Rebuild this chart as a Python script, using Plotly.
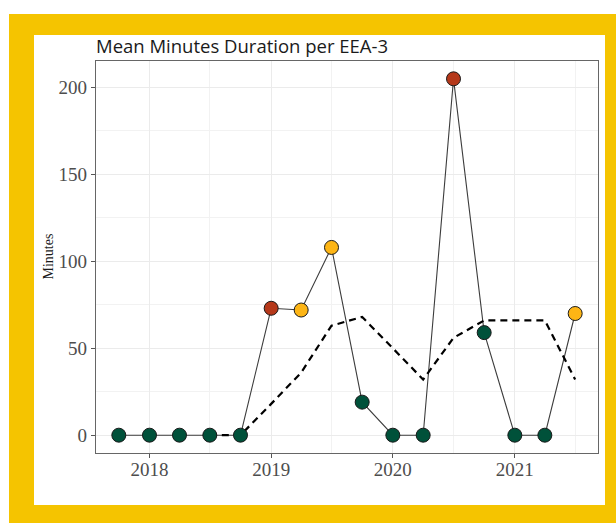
import plotly.graph_objects as go
import pandas as pd

# ---- data ----
quarters = ["2017-10-01", "2018-01-01", "2018-04-01", "2018-07-01", "2018-10-01",
            "2019-01-01", "2019-04-01", "2019-07-01", "2019-10-01",
            "2020-01-01", "2020-04-01", "2020-07-01", "2020-10-01",
            "2021-01-01", "2021-04-01", "2021-07-01"]
mean_minutes = [0, 0, 0, 0, 0, 73, 72, 108, 19, 0, 0, 205, 59, 0, 0, 70]
status = ["low", "low", "low", "low", "low", "high", "mid", "mid", "low",
          "low", "low", "high", "low", "low", "low", "mid"]
rolling_avg = [None, None, None, 0, 0, 18, 36, 63, 68, 50, 32, 56, 66, 66, 66, 32]
y_ticks = [0, 50, 100, 150, 200]
x_ticks = ["2018-01-01", "2019-01-01", "2020-01-01", "2021-01-01"]
x_tick_labels = ["2018", "2019", "2020", "2021"]

status_colors = {"low": "#00513A", "high": "#B5381A", "mid": "#FDB515"}

W, H = 616, 523
L, R, T, B = 96, 18, 61, 70
pw, ph = W - L - R, H - T - B

dates = pd.to_datetime(quarters)
span = dates.max() - dates.min()
xr = [dates.min() - span * 0.05, dates.max() + span * 0.05]
ymax = max(mean_minutes)
yr = [-0.05 * ymax, 1.05 * ymax]

fig = go.Figure()
fig.add_trace(go.Scatter(x=dates, y=mean_minutes, mode="lines",
                         line=dict(color="#3c3c3c", width=1.1),
                         hoverinfo="skip", showlegend=False))
fig.add_trace(go.Scatter(x=dates, y=rolling_avg, mode="lines",
                         line=dict(color="black", width=2.2, dash="7px,5px"),
                         connectgaps=False, showlegend=False))
fig.add_trace(go.Scatter(x=dates, y=mean_minutes, mode="markers",
                         marker=dict(size=14, color=[status_colors[s] for s in status],
                                     line=dict(color="#1a1a1a", width=1)),
                         showlegend=False))

def px_x(p):
    return (p - L) / pw

def px_y(p):
    return (H - B - p) / ph

# yellow frame and white inner panel (decoration)
fig.add_shape(type="rect", xref="paper", yref="paper", layer="below",
              x0=px_x(9), x1=px_x(W + 5), y0=px_y(H + 5), y1=px_y(14),
              fillcolor="#F5C400", line=dict(width=0))
fig.add_shape(type="rect", xref="paper", yref="paper", layer="below",
              x0=px_x(34), x1=px_x(605), y0=px_y(505), y1=px_y(35),
              fillcolor="white", line=dict(width=0))

fig.add_annotation(text="Minutes", xref="paper", yref="paper",
                   x=px_x(47.5), y=px_y(257), xanchor="center", yanchor="middle",
                   textangle=-90, showarrow=False,
                   font=dict(family="Liberation Serif", size=14, color="#1a1a1a"))

axis_common = dict(showline=True, mirror=True, linecolor="#666666", linewidth=1.2,
                   ticks="outside", ticklen=4, tickcolor="#555555", tickwidth=1,
                   gridcolor="#EBEBEB", gridwidth=1.1, zeroline=False,
                   tickfont=dict(family="Liberation Serif", size=19, color="#4D4D4D"))

fig.update_xaxes(type="date", range=xr, tickvals=pd.to_datetime(x_ticks),
                 ticktext=x_tick_labels, ticklabelstandoff=-5,
                 minor=dict(dtick="M6", tick0="2017-07-01", showgrid=True,
                            gridcolor="#F2F2F2", gridwidth=0.8, ticklen=0),
                 **axis_common)
fig.update_yaxes(range=yr, tickvals=y_ticks,
                 minor=dict(dtick=25, tick0=0, showgrid=True,
                            gridcolor="#F2F2F2", gridwidth=0.8, ticklen=0),
                 **axis_common)

fig.update_layout(
    width=W, height=H,
    margin=dict(l=L, r=R, t=T, b=B, autoexpand=False),
    paper_bgcolor="white", plot_bgcolor="white",
    title=dict(text="Mean Minutes Duration per EEA-3", x=px_x(96), xref="paper",
               xanchor="left", y=1 - 47 / H, yref="container", yanchor="middle",
               font=dict(family="Open Sans", size=18.5, color="#1a1a1a")),
)

fig.write_html("out.html", config={"displayModeBar": False},
               post_script="document.body.style.margin='0';")
